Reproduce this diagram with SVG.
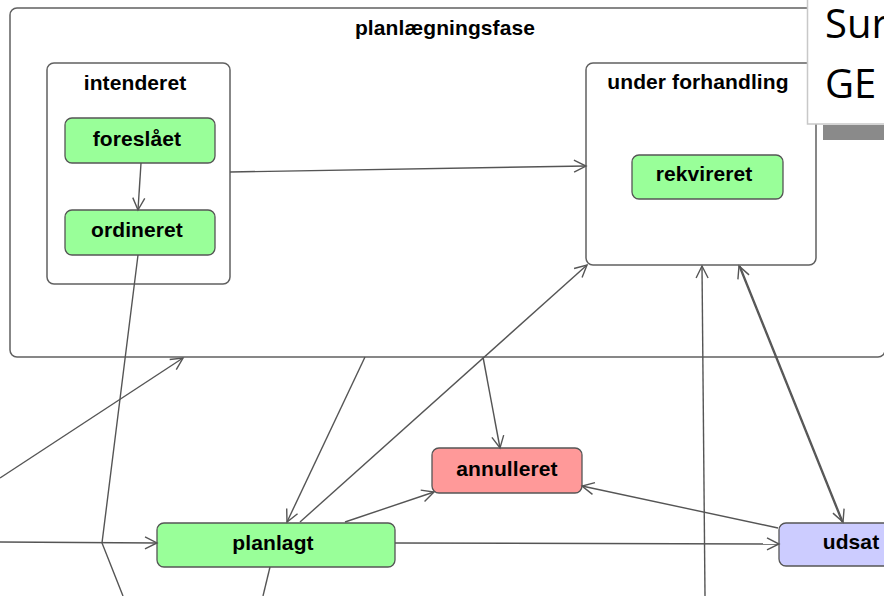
<svg xmlns="http://www.w3.org/2000/svg" width="884" height="596" viewBox="0 0 884 596">
<style>
.box{fill:#ffffff;stroke:#606060;stroke-width:1.5}
.st{stroke:#555555;stroke-width:1.3}
.green{fill:#99ff99}
.red{fill:#ff9999}
.blue{fill:#ccccff}
.lbl{font-family:"Liberation Sans",Arial,sans-serif;font-weight:bold;font-size:21px;letter-spacing:0.1px;fill:#000;text-anchor:middle}
.e{fill:none;stroke:#555555;stroke-width:1.4}
.big{font-family:"Open Sans","DejaVu Sans",sans-serif;font-size:40px;fill:#000}
</style>
<defs>
<marker id="a" markerUnits="userSpaceOnUse" markerWidth="16" markerHeight="16" refX="13" refY="7" orient="auto">
<path d="M1,1 L13,7 L1,13" fill="none" stroke="#555555" stroke-width="1.4"/>
</marker>
</defs>
<rect width="884" height="596" fill="#ffffff"/>
<g id="planlaegningsfase">
<rect class="box" x="10" y="8" width="875" height="349" rx="7"/>
<text class="lbl" x="445" y="35">planlægningsfase</text>
</g>
<g id="intenderet">
<rect class="box" x="47" y="63" width="183" height="221" rx="7"/>
<text class="lbl" x="135" y="90">intenderet</text>
</g>
<g id="foreslaaet">
<rect class="st green" x="65" y="118" width="150" height="45" rx="7"/>
<text class="lbl" x="137" y="146">foreslået</text>
</g>
<g id="ordineret">
<rect class="st green" x="65" y="210" width="150" height="45" rx="7"/>
<text class="lbl" x="137" y="237">ordineret</text>
</g>
<g id="under_forhandling">
<rect class="box" x="586" y="63" width="230" height="202" rx="7"/>
<text class="lbl" x="698" y="89">under forhandling</text>
</g>
<g id="rekvireret">
<rect class="st green" x="632" y="155" width="151" height="44" rx="7"/>
<text class="lbl" x="704" y="181">rekvireret</text>
</g>
<g id="annulleret">
<rect class="st red" x="432" y="448" width="150" height="45" rx="7"/>
<text class="lbl" x="507" y="476">annulleret</text>
</g>
<g id="planlagt">
<rect class="st green" x="157" y="523" width="238" height="44" rx="7"/>
<text class="lbl" x="273" y="550">planlagt</text>
</g>
<g id="udsat">
<rect class="st blue" x="779" y="523" width="144" height="43" rx="7"/>
<text class="lbl" x="851" y="549">udsat</text>
</g>
<g id="connectors">
<line class="e" x1="141" y1="163" x2="138" y2="210" marker-end="url(#a)"/>
<line class="e" x1="230" y1="172" x2="586" y2="166" marker-end="url(#a)"/>
<polyline class="e" points="138,255 102,543 123,596"/>
<line class="e" x1="0" y1="542" x2="157" y2="543" marker-end="url(#a)"/>
<line class="e" x1="0" y1="478" x2="183" y2="358" marker-end="url(#a)"/>
<line class="e" x1="365" y1="357" x2="287" y2="522" marker-end="url(#a)"/>
<line class="e" x1="300" y1="522" x2="587" y2="265" marker-end="url(#a)"/>
<line class="e" x1="483" y1="357" x2="500" y2="448" marker-end="url(#a)"/>
<line class="e" x1="345" y1="522" x2="434" y2="492" marker-end="url(#a)"/>
<line class="e" x1="395" y1="543" x2="779" y2="544" marker-end="url(#a)"/>
<line class="e" x1="778" y1="528" x2="582" y2="486" marker-end="url(#a)"/>
<line class="e" x1="740" y1="266" x2="843" y2="522" marker-end="url(#a)"/>
<line class="e" x1="842" y1="522" x2="739" y2="266" marker-end="url(#a)"/>
<line class="e" x1="705" y1="596" x2="702" y2="266" marker-end="url(#a)"/>
<line class="e" x1="270" y1="567" x2="263" y2="596"/>
</g>
<g id="overlay">
<rect x="823" y="125" width="70" height="15" fill="#8a8a8a"/>
<rect x="807.5" y="-2" width="90" height="126" fill="#ffffff" stroke="#c8c8c8" stroke-width="1.5"/>
<text class="big" x="825" y="38">Sur</text>
<text class="big" x="825" y="98">GE</text>
</g>
</svg>
